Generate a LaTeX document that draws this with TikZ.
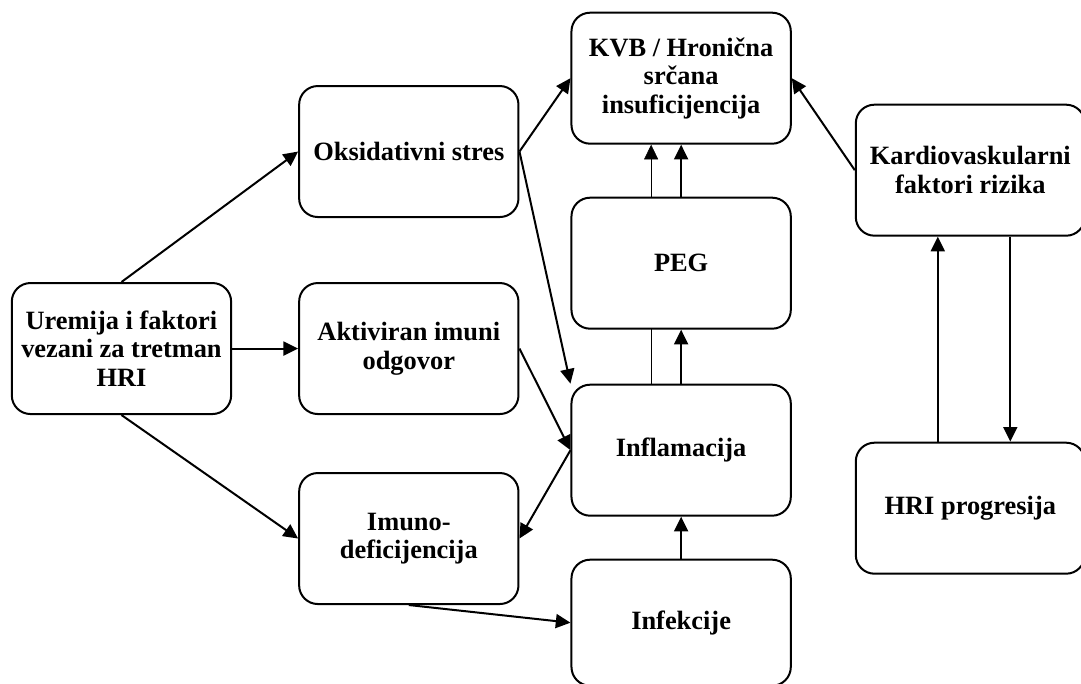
\documentclass[tikz,border=0pt]{standalone}
\usepackage{fontspec}
\setmainfont{Liberation Serif}
\usetikzlibrary{arrows.meta,positioning,backgrounds}

\begin{document}
\begin{tikzpicture}[
 >={Triangle[length=11pt,width=10.5pt]}, line width=1.5pt,
 font=\fontsize{19.8}{21.5}\selectfont\bfseries,
 box/.style={draw, rounded corners=14pt, align=center, fill=white, minimum width=164.5pt, minimum height=98.25pt, inner sep=3pt},
 wide/.style={box, minimum width=171.75pt}]
\useasboundingbox (-91.1pt,261.4pt) rectangle (719.65pt,-251.6pt);
\node[box] (urem) {Uremija i faktori\\ vezani za tretman\\ HRI};
\node[box, right=49.5pt of urem] (akt) {Aktiviran imuni\\ odgovor};
\node[box, above=48pt of akt] (oks) {Oksidativni stres};
\node[box, below=42.75pt of akt] (imuno) {Imuno-\\ deficijencija};
\node[box, right=38.25pt of oks, yshift=55pt] (kvb) {KVB / Hronična\\ srčana\\ insuficijencija};
\node[box, below=39pt of kvb] (peg) {PEG};
\node[box, below=40.5pt of peg] (infl) {Inflamacija};
\node[box, below=31.5pt of infl, minimum height=94.5pt] (inf) {Infekcije};
\node[wide, right=47.25pt of kvb, yshift=-69pt] (kardio) {Kardiovaskularni\\ faktori rizika};
\node[wide, below=153.75pt of kardio] (hri) {HRI progresija};
% connectors
\foreach \a/\b in {urem.north/oks.west, urem/akt, urem.south/imuno.west,
  oks.east/kvb.west, oks.east/infl.north west, akt.east/infl.west,
  infl.west/imuno.east, imuno.south/inf.west, infl/peg, peg/kvb,
  inf/infl, kardio.west/kvb.east}
  \draw[->] (\a) -- (\b);
\begin{scope}[on background layer]
\draw[->] ([xshift=-22.5pt]infl.north) -- ([xshift=-22.5pt]kvb.south);
\end{scope}
\draw[->] ([xshift=-24.4pt]hri.north) -- ([xshift=-24.4pt]kardio.south);
\draw[->] ([xshift=30pt]kardio.south) -- ([xshift=30pt]hri.north);
\end{tikzpicture}
\end{document}
